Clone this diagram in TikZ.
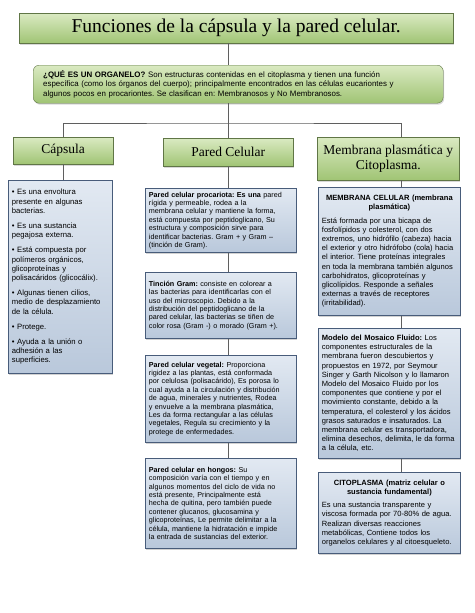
\documentclass[tikz,border=0pt]{standalone}
\usepackage{fontspec}
\setmainfont{Liberation Sans}
\newfontfamily\encabezado{Liberation Serif}
\usepackage{tikz}
\definecolor{verdeclaro}{RGB}{218,234,194}
\definecolor{verdeoscuro}{RGB}{160,196,116}
\definecolor{azulclaro}{RGB}{226,233,242}
\definecolor{azuloscuro}{RGB}{185,200,219}
\definecolor{bordeazul}{RGB}{72,92,122}
\definecolor{linea}{RGB}{95,95,95}
\usetikzlibrary{shadows}
\frenchspacing

\begin{document}
\begin{tikzpicture}[x=1pt, y=-1pt,
	verde/.style={draw=verdeoscuro!60!black, top color=verdeclaro, bottom color=verdeoscuro, anchor=north west, drop shadow={opacity=0.3, shadow xshift=1pt, shadow yshift=-1.5pt}},
	cabeza/.style={verde, font=\encabezado\fontsize{13.5}{15.5}\selectfont, align=center},
	cuerpo/.style={draw=bordeazul, line width=0.8pt, top color=azulclaro, bottom color=azuloscuro, anchor=north west, align=left, inner xsep=3.5pt, drop shadow={opacity=0.35, shadow xshift=1pt, shadow yshift=-1.5pt}},
	medio/.style={cuerpo, minimum width=151pt, text width=144pt, font=\fontsize{7.2}{8.4}\selectfont},
	derecho/.style={cuerpo, minimum width=142pt, text width=135pt, font=\fontsize{7.55}{9.2}\selectfont},
	conector/.style={draw=linea, line width=0.8pt}]
	%Fondo
	\fill[white] (0,0) rectangle (474,613);
	\useasboundingbox (0,0) rectangle (474,613);
	%Titulo y organelo
	\node[verde, minimum width=434pt, minimum height=30pt, font=\encabezado\fontsize{19.5}{22}\selectfont] (titulo) at (19,13) {Funciones de la cápsula y la pared celular.};
	\node[verde, rounded corners=6pt, minimum width=410pt, minimum height=38pt, text width=390pt, align=left, font=\fontsize{7.9}{9.8}\selectfont] (organelo) at (33,65) {\textbf{¿QUÉ ES UN ORGANELO?} Son estructuras contenidas en el citoplasma y tienen una función\\específica (como los órganos del cuerpo); principalmente encontrados en las células eucariontes y\\algunos pocos en procariontes. Se clasifican en: Membranosos y No Membranosos.};
	%Encabezados
	\node[cabeza, minimum width=100pt, minimum height=27pt] (capsula) at (13,137) {Cápsula};
	\node[cabeza, minimum width=130pt, minimum height=28pt] (pared) at (163,138) {Pared Celular};
	\node[cabeza, minimum width=142pt, minimum height=43pt] (membrana) at (317,137) {Membrana plasmática y\\Citoplasma.};
	%Cápsula
	\node[cuerpo, minimum width=104pt, minimum height=193pt, text width=97pt, font=\fontsize{7.7}{9.2}\selectfont] (capcuerpo) at (8,180) {\textbullet{} Es una envoltura\\presente en algunas\\bacterias.\\[6pt]
		\textbullet{} Es una sustancia\\pegajosa externa.\\[6pt]
		\textbullet{} Está compuesta por\\polímeros orgánicos,\\glicoproteínas y\\polisacáridos (glicocálix).\\[6pt]
		\textbullet{} Algunas tienen cilios,\\medio de desplazamiento\\de la célula.\\[6pt]
		\textbullet{} Protege.\\[6pt]
		\textbullet{} Ayuda a la unión o\\adhesión a las\\superficies.};
	%Pared celular
	\node[medio, minimum height=64pt] (procariota) at (145,188) {\textbf{Pared celular procariota: Es una} pared\\rígida y permeable, rodea a la\\membrana celular y mantiene la forma,\\está compuesta por peptidoglicano, Su\\estructura y composición sirve para\\identificar bacterias. Gram + y Gram –\\(tinción de Gram).};
	\node[medio, minimum height=66pt] (tincion) at (145,272) {\textbf{Tinción Gram:} consiste en colorear a\\las bacterias para identificarlas con el\\uso del microscopio. Debido a la\\distribución del peptidoglicano de la\\pared celular, las bacterias se tiñen de\\color rosa (Gram -) o morado (Gram +).};
	\node[medio, minimum height=87pt] (vegetal) at (145,355) {\textbf{Pared celular vegetal:} Proporciona\\rigidez a las plantas, está conformada\\por celulosa (polisacárido), Es porosa lo\\cual ayuda a la circulación y distribución\\de agua, minerales y nutrientes, Rodea\\y envuelve a la membrana plasmática,\\Les da forma rectangular a las células\\vegetales, Regula su crecimiento y la\\protege de enfermedades.};
	\node[medio, minimum height=90pt] (hongos) at (145,458) {\textbf{Pared celular en hongos:} Su\\composición varía con el tiempo y en\\algunos momentos del ciclo de vida no\\está presente, Principalmente está\\hecha de quitina, pero también puede\\contener glucanos, glucosamina y\\glicoproteínas, Le permite delimitar a la\\célula, mantiene la hidratación e impide\\la entrada de sustancias del exterior.};
	%Membrana y citoplasma
	\node[derecho, minimum height=128pt] (memcelular) at (318,187) {\makebox[\linewidth]{\textbf{MEMBRANA CELULAR (membrana}}\\\makebox[\linewidth]{\textbf{plasmática)}}\\[4pt]
		Está formada por una bicapa de\\fosfolípidos y colesterol, con dos\\extremos, uno hidrófilo (cabeza) hacia\\el exterior y otro hidrófobo (cola) hacia\\el interior. Tiene proteínas integrales\\en toda la membrana también algunos\\carbohidratos, glicoproteínas y\\glicolípidos. Responde a señales\\externas a través de receptores\\(irritabilidad).};
	\node[derecho, minimum height=130pt] (mosaico) at (318,328) {\textbf{Modelo del Mosaico Fluido:} Los\\componentes estructurales de la\\membrana fueron descubiertos y\\propuestos en 1972, por Seymour\\Singer y Garth Nicolson y lo llamaron\\Modelo del Mosaico Fluido por los\\componentes que contiene y por el\\movimiento constante, debido a la\\temperatura, el colesterol y los ácidos\\grasos saturados e insaturados. La\\membrana celular es transportadora,\\elimina desechos, delimita, le da forma\\a la célula, etc.};
	\node[derecho, minimum height=81pt] (citoplasma) at (318,472) {\makebox[\linewidth]{\textbf{CITOPLASMA (matriz celular o}}\\\makebox[\linewidth]{\textbf{sustancia fundamental)}}\\[4pt]
		Es una sustancia transparente y\\viscosa formada por 70-80\% de agua.\\Realizan diversas reacciones\\metabólicas, Contiene todos los\\organelos celulares y al citoesqueleto.};
	%Conectores
	\coordinate (barra) at (228,123);
	\coordinate (derecha) at (401,123);
	\draw[conector] (titulo.south -| pared.north) -- (organelo.north -| pared.north);
	\draw[conector] (organelo.south -| pared.north) -- (pared.north);
	\draw[conector] (capsula.north) |- (barra) -| (derecha) -- (derecha |- membrana.north);
	\draw[conector] (capsula.south) -- (capcuerpo.north -| capsula.south);
	\draw[conector] (pared.south) -- (procariota.north -| pared.south);
	\draw[conector] (procariota.south -| pared.south) -- (tincion.north -| pared.south);
	\draw[conector] (tincion.south -| pared.south) -- (vegetal.north -| pared.south);
	\draw[conector] (vegetal.south -| pared.south) -- (hongos.north -| pared.south);
	\draw[conector] (membrana.south -| derecha) -- (memcelular.north -| derecha);
	\draw[conector] (memcelular.south -| derecha) -- (mosaico.north -| derecha);
	\draw[conector] (mosaico.south -| derecha) -- (citoplasma.north -| derecha);
\end{tikzpicture}
\end{document}
